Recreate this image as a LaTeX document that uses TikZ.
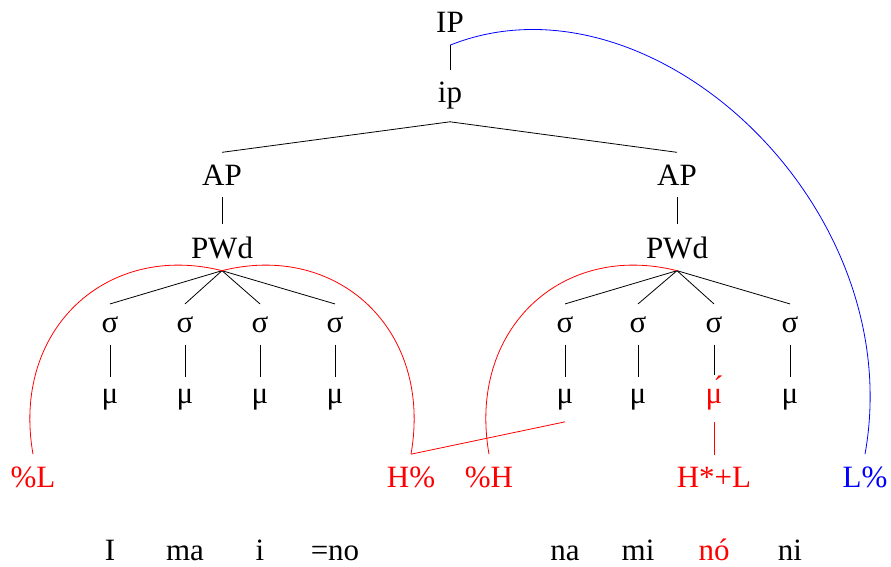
\documentclass[tikz,border=0pt]{standalone}
\usepackage{fontspec}
\setmainfont{Liberation Serif}
\usetikzlibrary{positioning}

\begin{document}
\begin{tikzpicture}[
  x=1pt, y=-1pt,
  lab/.style={font=\fontsize{31}{36}\selectfont, inner xsep=2pt, inner ysep=12pt, anchor=base},
  tone/.style={lab, text=red},
  bdry/.style={lab, text=blue},
  tie/.style={line width=0.8pt},
  assoc/.style={tie, red},
  span/.style={tie, blue}
]
\useasboundingbox (0,0) rectangle (891,567);
% prosodic tree
\node[lab] (IP) at (450,33) {IP};
\node[lab] (ip) at (450,103) {ip};
\node[lab] (APa) at (222,185) {AP};
\node[lab] (APb) at (677,185) {AP};
\node[lab] (PWa) at (222,258) {PWd};
\node[lab] (PWb) at (677,258) {PWd};
\node[lab] (sa1) at (110,332) {σ};
\node[lab] (sa2) at (185,332) {σ};
\node[lab] (sa3) at (260,332) {σ};
\node[lab] (sa4) at (335,332) {σ};
\node[lab] (sb1) at (565,332) {σ};
\node[lab] (sb2) at (638,332) {σ};
\node[lab] (sb3) at (714,332) {σ};
\node[lab] (sb4) at (790,332) {σ};
\node[lab] (ma1) at (110,403) {μ};
\node[lab] (ma2) at (185,403) {μ};
\node[lab] (ma3) at (260,403) {μ};
\node[lab] (ma4) at (335,403) {μ};
\node[lab] (mb1) at (565,403) {μ};
\node[lab] (mb2) at (638,403) {μ};
\node[tone, text height=16pt] (mb3) at (714,403) {μ́};
\node[lab] (mb4) at (790,403) {μ};
% tones
\node[tone] (Lpre) at (33,487) {\%L};
\node[tone] (Hfin) at (411,487) {H\%};
\node[tone] (Hpre) at (489,487) {\%H};
\node[tone] (Hstar) at (714,487) {H*+L};
\node[bdry] (Lfin) at (865,487) {L\%};
% segments
\node[lab] (w1) at (110,560) {I};
\node[lab] (w2) at (185,560) {ma};
\node[lab] (w3) at (260,560) {i};
\node[lab] (w4) at (335,560) {=no};
\node[lab] (w5) at (565,560) {na};
\node[lab] (w6) at (638,560) {mi};
\node[tone] (w7) at (714,560) {nó};
\node[lab] (w8) at (790,560) {ni};
\draw[tie] (IP) -- (ip);
\draw[tie] (ip.south) -- (APa.north);
\draw[tie] (ip.south) -- (APb.north);
\draw[tie] (APa) -- (PWa);
\draw[tie] (APb) -- (PWb);
\draw[tie] (PWa.south) -- (sa1.north);
\draw[tie] (PWa.south) -- (sa2.north);
\draw[tie] (PWa.south) -- (sa3.north);
\draw[tie] (PWa.south) -- (sa4.north);
\draw[tie] (PWb.south) -- (sb1.north);
\draw[tie] (PWb.south) -- (sb2.north);
\draw[tie] (PWb.south) -- (sb3.north);
\draw[tie] (PWb.south) -- (sb4.north);
\draw[tie] (sa1) -- (ma1);
\draw[tie] (sa2) -- (ma2);
\draw[tie] (sa3) -- (ma3);
\draw[tie] (sa4) -- (ma4);
\draw[tie] (sb1) -- (mb1);
\draw[tie] (sb2) -- (mb2);
\draw[tie] (sb3) -- (mb3);
\draw[tie] (sb4) -- (mb4);
% tone association
\draw[assoc] (Lpre.north) .. controls +(-22,-125) and +(-115,-29) .. (PWa.south);
\draw[assoc] (PWa.south) .. controls +(115,-29) and +(22,-125) .. (Hfin.north);
\draw[assoc] (Hfin.north) -- (mb1.south);
\draw[assoc] (Hpre.north) .. controls +(-22,-125) and +(-115,-29) .. (PWb.south);
\draw[assoc] (mb3) -- (Hstar);
\draw[span] (IP.south) .. controls +(200,-80) and +(45,-250) .. (Lfin.north);
\end{tikzpicture}
\end{document}
